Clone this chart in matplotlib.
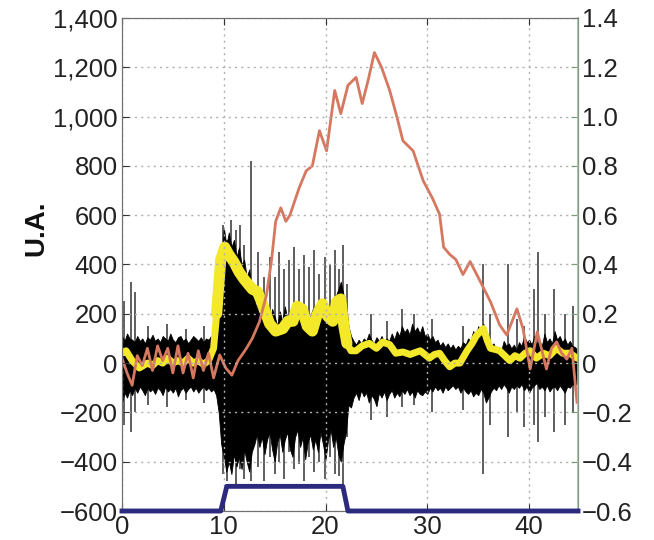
import matplotlib
matplotlib.use("Agg")
import matplotlib.pyplot as plt
from matplotlib.ticker import FixedLocator, FuncFormatter

# ---------------- data ----------------
# black signal: envelope read every 0.25 s (upper / lower), three stretches
env_up_a = [110, 90, 120, 100, 95, 85, 110, 90, 100, 80, 105, 95, 115, 90, 100, 85, 110, 100,
            90, 120, 95, 85, 105, 110, 90, 100, 80, 95, 110, 100, 90, 105, 85, 100, 95, 110,
            90, 100]
env_lo_a = [-160, -120, -140, -110, -130, -100, -120, -95, -110, -130, -100, -115, -105, -125,
            -100, -110, -130, -95, -115, -105, -120, -100, -135, -110, -100, -120, -105, -95,
            -115, -100, -120, -105, -95, -110, -100, -115, -105, -130]
env_up_b = [150, 380, 550, 480, 530, 470, 500, 430, 470, 400, 420, 350, 380, 300, 260, 220,
            200, 240, 180, 210, 160, 220, 190, 150, 210, 170, 230, 180, 150, 210, 240, 190,
            160, 230, 200, 150, 190, 220, 170, 230, 250, 190, 160, 220, 190, 240, 270, 300,
            330, 280, 250, 150]
env_lo_b = [-200, -330, -380, -440, -400, -450, -370, -420, -380, -430, -350, -400, -440, -360,
            -330, -290, -340, -300, -370, -310, -280, -350, -400, -320, -290, -360, -310, -280,
            -350, -380, -300, -270, -340, -300, -390, -320, -290, -350, -310, -360, -280, -330,
            -390, -310, -270, -340, -300, -370, -400, -330, -280, -170]
env_up_c = [110, 90, 75, 95, 80, 100, 90, 120, 95, 80, 105, 90, 110, 85, 100, 90, 120, 95, 130,
            110, 150, 125, 140, 115, 160, 130, 145, 120, 150, 110, 120, 95, 110, 85, 95, 70, 85,
            65, 80, 60, 75, 55, 70, 60, 85, 75, 100, 90, 130, 110, 150, 120, 160, 110, 90, 70,
            80, 55, 65, 50, 90, 70, 80, 60, 75, 55, 85, 70, 110, 85, 95, 75, 110, 80, 90, 70,
            120, 85, 100, 80, 130, 95, 110, 85, 100, 75, 90, 70, 65, 55, 50]
env_lo_c = [-180, -140, -120, -150, -110, -135, -120, -160, -130, -145, -175, -120, -140, -115,
            -150, -125, -110, -140, -120, -135, -110, -125, -105, -130, -115, -140, -110, -125,
            -130, -115, -125, -100, -115, -95, -110, -100, -120, -95, -110, -100, -90, -105, -95,
            -120, -100, -115, -125, -110, -135, -120, -130, -105, -120, -160, -140, -115, -100,
            -110, -90, -105, -85, -100, -120, -95, -105, -90, -100, -85, -110, -95, -120, -100,
            -90, -80, -105, -95, -110, -90, -115, -100, -95, -110, -90, -105, -120, -95, -100,
            -85, -90, -80, -75]
env_start = [0.0, 9.5, 22.5]

# isolated spikes of the black signal
spike_x = [0.2, 0.85, 1.3, 2.6, 4.4, 6.3, 8.1, 9.9, 10.3, 10.7, 11.2, 11.6, 12.0, 12.7, 13.4,
           14.0, 14.5, 15.0, 15.4, 15.9, 16.4, 16.9, 17.4, 17.9, 18.4, 18.9, 19.4, 19.9, 20.4,
           20.9, 21.3, 21.7, 22.1, 24.5, 26.0, 27.5, 28.7, 30.5, 33.5, 35.5, 36.2, 37.9, 38.8,
           39.5, 40.5, 40.9, 41.6, 42.4, 43.5, 44.3]
spike_top = [250, 330, 290, 150, 160, 140, 150, 560, 500, 580, 540, 560, 480, 820, 450, 350,
             430, 350, 450, 380, 420, 470, 380, 440, 390, 460, 360, 430, 400, 460, 380, 480,
             320, 200, 170, 220, 200, 180, 150, 400, 200, 400, 180, 150, 300, 450, 200, 300,
             200, 230]
spike_bot = [-250, -280, -200, -170, -180, -150, -160, -450, -480, -400, -500, -430, -470,
             -480, -420, -480, -380, -450, -400, -470, -360, -430, -410, -480, -380, -440,
             -400, -470, -380, -450, -460, -520, -300, -230, -220, -180, -170, -200, -190, -450,
             -250, -300, -200, -260, -250, -320, -220, -280, -250, -200]

# red curve
red_x = [0, 0.5, 1, 1.5, 2, 2.5, 3, 3.5, 4, 4.5, 5, 5.5, 6, 6.5, 7, 7.5, 8, 8.5, 9, 9.6,
         10.2, 10.8, 11.4, 12.2, 12.8, 13.5, 14.2, 14.7, 15.1, 15.6, 16.1, 16.5, 17.4, 18.1,
         18.7, 19.4, 20.1, 20.9, 21.5, 22.2, 23.0, 23.6, 24.2, 24.8, 25.5, 26.3, 27.0, 27.6,
         28.6, 29.6, 30.5, 31.2, 31.6, 32.2, 32.8, 33.5, 34.2, 35.2, 36.2, 37.1, 37.8, 38.8,
         39.4, 40.1, 40.8, 41.7, 42.2, 42.7, 43.2, 43.7, 44.2, 44.7]
red_y = [20, -40, -90, 30, -10, 60, -30, 70, 10, 60, -40, 70, -40, 40, -60, 50, -30, 40, -60,
         33, -20, -49, 10, 58, 100, 167, 277, 420, 575, 630, 575, 600, 710, 780, 800, 943, 861,
         1106, 1012, 1127, 1159, 1053, 1150, 1260, 1200, 1106, 1000, 902, 861, 739, 669, 604,
         470, 441, 420, 359, 412, 331, 249, 155, 114, 220, 139, -24, 127, -24, 60, 86, 40, 16,
         60, -159]

# yellow envelope
yel_x = [0, 0.4, 1, 1.7, 2.5, 3, 3.5, 4, 4.5, 5, 5.5, 6, 6.5, 7, 7.5, 8, 8.5, 9, 9.3, 9.7,
         10.1, 10.5, 11, 11.5, 12, 12.8, 13.3, 13.8, 14.5, 15.1, 15.8, 16.3, 16.8, 17.2, 17.7,
         18.2, 18.7, 19.2, 19.7, 20.2, 20.7, 21.1, 21.5, 21.8, 22.1, 22.5, 23.0, 23.6, 24.3,
         25, 25.6, 26.3, 26.9, 27.6, 28.3, 29.3, 30.2, 30.7, 31.2, 31.7, 32.2, 32.7, 33.2,
         33.9, 34.4, 34.8, 35.5, 35.9, 36.2, 36.7, 37.1, 37.6, 38.1, 38.6, 39.1, 39.6, 40.1,
         40.7, 41.4, 42, 42.7, 43.3, 44.0, 44.7]
yel_y = [40, 50, 10, -20, 0, -10, 10, 0, 20, 0, 10, 0, 20, 0, 10, -5, 10, 60, 200, 420, 470,
         440, 410, 370, 340, 300, 290, 240, 160, 130, 140, 170, 170, 230, 220, 150, 130, 200,
         240, 190, 170, 250, 260, 150, 80, 50, 50, 70, 80, 60, 85, 75, 40, 45, 35, 50, 20, 35,
         40, 10, -15, 0, 0, 50, 80, 110, 140, 90, 60, 55, 50, 30, 10, 30, 20, 40, 50, 20, 40,
         30, 60, 40, 40, 20]

# blue stimulus (right axis units)
blue_x = [0, 9.7, 10.3, 21.7, 22.2, 44.8]
blue_y = [-0.6, -0.6, -0.5, -0.5, -0.6, -0.6]

left_ticks = [-600, -400, -200, 0, 200, 400, 600, 800, 1000, 1200, 1400]
right_ticks = [-0.6, -0.4, -0.2, 0, 0.2, 0.4, 0.6, 0.8, 1.0, 1.2, 1.4]
x_ticks = [0, 10, 20, 30, 40]

# ---------------- figure ----------------
plt.rcParams['font.family'] = ['Liberation Sans', 'DejaVu Sans']
fig = plt.figure(figsize=(6.54, 5.40), dpi=100)
ax = fig.add_axes([0.1865, 0.0537, 0.6973, 0.913])
ax2 = ax.twinx()

# spikes first, dense body drawn on top of them (one continuous band)
ax.vlines(spike_x, spike_bot, spike_top, color='#333333', lw=1.1, zorder=0.9)
env_x, env_up, env_lo = [], [], []
for x0, up, lo in zip(env_start, [env_up_a, env_up_b, env_up_c],
                      [env_lo_a, env_lo_b, env_lo_c]):
    env_x += [x0 + 0.25 * i for i in range(len(up))]
    env_up += up
    env_lo += lo
ax.fill_between(env_x, env_lo, env_up, color='black', lw=0.6, zorder=1)

# yellow: thicker where the burst is
ax.plot(yel_x, yel_y, color='#f3e82a', lw=5, solid_joinstyle='round',
        solid_capstyle='round', zorder=2)
burst = [i for i, v in enumerate(yel_x) if 9.2 <= v <= 22.2]
ax.plot([yel_x[i] for i in burst], [yel_y[i] for i in burst], color='#f3e82a', lw=8,
        solid_joinstyle='round', solid_capstyle='round', zorder=2)
ax.plot(red_x, red_y, color='#d6785f', lw=2, zorder=2.1)
ax2.plot(blue_x, blue_y, color='#2c2a7e', lw=3.5, clip_on=False, zorder=3)

ax.set_xlim(0, 44.8)
ax.set_ylim(-600, 1400)
ax2.set_ylim(-0.6, 1.4)

ax.xaxis.set_major_locator(FixedLocator(x_ticks))
ax.yaxis.set_major_locator(FixedLocator(left_ticks))
ax2.yaxis.set_major_locator(FixedLocator(right_ticks))


def lfmt(v, pos):
    s = f"{abs(int(round(v))):,}"
    return ("\u2212" + s) if v < 0 else s


def rfmt(v, pos):
    if abs(v) < 1e-9:
        return "0"
    s = f"{abs(v):.1f}"
    return ("\u2212" + s) if v < 0 else s


ax.yaxis.set_major_formatter(FuncFormatter(lfmt))
ax2.yaxis.set_major_formatter(FuncFormatter(rfmt))

ax.set_axisbelow(False)
ax.grid(True, linestyle=(0, (1.5, 3)), color='#b0b0b0', lw=1.0)

ax.tick_params(axis='both', direction='in', length=5, labelsize=18.5, colors='#333333',
               labelcolor='#222222', top=True, pad=3)
ax2.tick_params(axis='y', direction='in', length=5, labelsize=18.5, colors='#7a9a80',
                labelcolor='#222222', pad=3)

for sp in ['left', 'top', 'bottom']:
    ax.spines[sp].set_color('#707070')
    ax2.spines[sp].set_color('#707070')
ax2.spines['right'].set_color('#9dbba3')
ax2.spines['right'].set_linewidth(1.2)

fig.text(0.055, 0.578, 'U.A.', rotation=90, ha='center', va='center', fontsize=20,
         fontweight='bold', color='#111111')

fig.savefig('out.png', dpi=100)
